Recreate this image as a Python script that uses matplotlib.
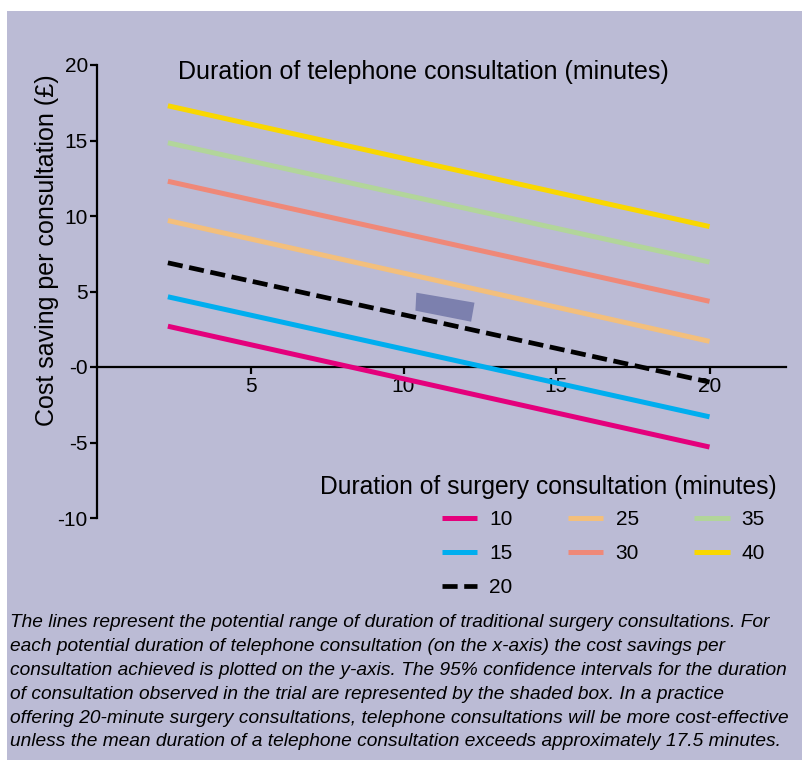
import matplotlib
matplotlib.use("Agg")
import matplotlib.pyplot as plt
from matplotlib.patches import Rectangle, Polygon

plt.rcParams["font.family"] = ["Liberation Sans", "DejaVu Sans"]

# telephone consultation duration (x) at the two ends of each line
tel_minutes = [2.3, 20]
# cost saving per consultation at those two x values, per surgery duration
surgery_labels = ["10", "15", "20", "25", "30", "35", "40"]
savings = {
    "10": [2.7, -5.3],
    "15": [4.65, -3.3],
    "20": [6.9, -1.0],
    "25": [9.7, 1.7],
    "30": [12.3, 4.35],
    "35": [14.85, 6.95],
    "40": [17.3, 9.3],
}
colours = ["#e4007c", "#00aeef", "black", "#f3bf7c", "#ef8878", "#b2d59a", "#f9d700"]

# shaded 95% CI box (telephone minutes, saving)
box_x = [10.42, 12.32, 12.21, 10.39]
box_y = [4.92, 4.26, 3.0, 3.73]

xticks = [5, 10, 15, 20]
yticks = [-10, -5, 0, 5, 10, 15, 20]
ytick_labels = ["-10", "-5", "-0", "5", "10", "15", "20"]

W, H = 803, 761
fig = plt.figure(figsize=(W / 100, H / 100), dpi=100)
fig.patch.set_facecolor("white")
fig.patches.append(Rectangle((7 / W, 1 - 760 / H), 796 / W, 749 / H,
                             transform=fig.transFigure, facecolor="#bbbbd5",
                             edgecolor="none", zorder=-10))

# axes placed in pixel terms: x 0 -> 97.5px, 22.5 -> 786px ; y 20 -> 65px, -10 -> 518px
x0, x1 = 97.5, 97.5 + 22.5 * 30.6
ax = fig.add_axes([x0 / W, 1 - 518 / H, (x1 - x0) / W, (518 - 65) / H])
ax.set_facecolor("none")
ax.set_xlim(0, 22.5)
ax.set_ylim(-10, 20)

for colour, lab in zip(colours, surgery_labels):
    if lab == "20":
        ax.plot(tel_minutes, savings[lab], color=colour, lw=3.4, dashes=(3.2, 1.4),
                solid_capstyle="butt", dash_capstyle="butt", label=lab, zorder=3)
    else:
        ax.plot(tel_minutes, savings[lab], color=colour, lw=3.6,
                solid_capstyle="butt", label=lab, zorder=3)

ax.add_patch(Polygon(list(zip(box_x, box_y)), closed=True, facecolor="#7c80ae",
                     edgecolor="none", zorder=4))

ax.spines["top"].set_visible(False)
ax.spines["right"].set_visible(False)
ax.spines["bottom"].set_position(("data", 0))
ax.spines["left"].set_bounds(-10, 20)
for s in ("left", "bottom"):
    ax.spines[s].set_linewidth(1.6)
ax.set_xticks(xticks)
ax.set_yticks(yticks)
ax.set_yticklabels(ytick_labels)
ax.tick_params(axis="both", direction="out", length=5, width=1.6, labelsize=15,
               pad=2)

fig.text(178 / W, 1 - 72 / H, "Duration of telephone consultation (minutes)",
         fontsize=18, ha="left", va="center")
fig.text(47 / W, 1 - 250 / H, "Cost saving per consultation (£)", fontsize=18,
         rotation=90, ha="center", va="center")
fig.text(320 / W, 1 - 487 / H, "Duration of surgery consultation (minutes)",
         fontsize=17.7, ha="left", va="center")

leg = ax.legend(loc="upper left", bbox_to_anchor=(442 / W, 1 - 510 / H),
                bbox_transform=fig.transFigure, ncol=3, frameon=False, fontsize=15,
                handlelength=1.7, handletextpad=0.58, columnspacing=2.65,
                labelspacing=0.72, borderpad=0, borderaxespad=0)

caption = ("The lines represent the potential range of duration of traditional surgery consultations. For\n"
           "each potential duration of telephone consultation (on the x-axis) the cost savings per\n"
           "consultation achieved is plotted on the y-axis. The 95% confidence intervals for the duration\n"
           "of consultation observed in the trial are represented by the shaded box. In a practice\n"
           "offering 20-minute surgery consultations, telephone consultations will be more cost-effective\n"
           "unless the mean duration of a telephone consultation exceeds approximately 17.5 minutes.")
fig.text(10 / W, 1 - 614 / H, caption, fontsize=13.8, style="italic", ha="left",
         va="top", linespacing=1.53)

fig.savefig("out.png", dpi=100, facecolor=fig.get_facecolor())
